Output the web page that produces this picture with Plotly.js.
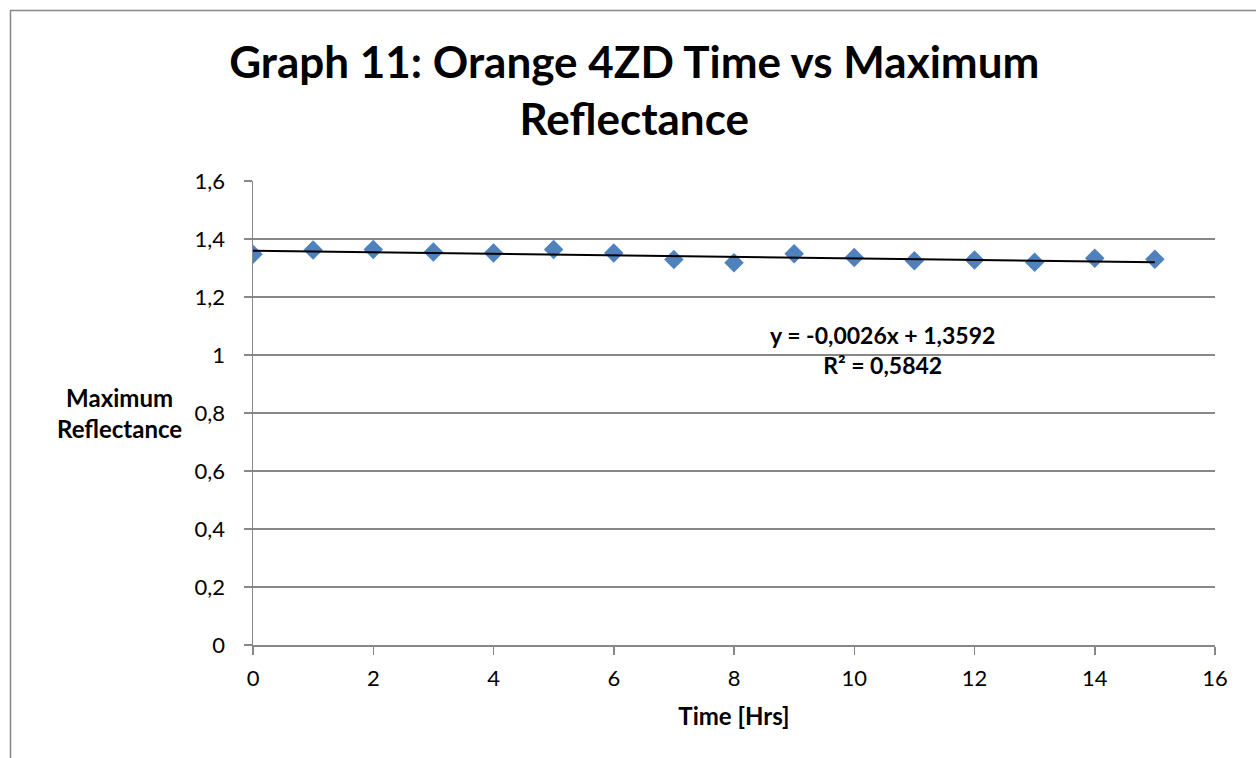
<!DOCTYPE html>
<html>
<head>
<meta charset="utf-8">
<script src="https://cdn.plot.ly/plotly-3.0.1.min.js"></script>
<style>
  html, body { margin: 0; padding: 0; background: #fff; }
  #chart { width: 1256px; height: 758px; }
</style>
</head>
<body>
<div id="chart"></div>
<script>
// Data
const timeHrs = [0, 1, 2, 3, 4, 5, 6, 7, 8, 9, 10, 11, 12, 13, 14, 15];
const maxReflectance = [1.347, 1.362, 1.364, 1.355, 1.352, 1.364, 1.352, 1.329, 1.318, 1.349, 1.336, 1.325, 1.328, 1.320, 1.334, 1.330];
const trendSlope = -0.0026;
const trendIntercept = 1.3592;
const trendR2 = 0.5842;
const xTickVals = [0, 2, 4, 6, 8, 10, 12, 14, 16];
const yTickVals = [0, 0.2, 0.4, 0.6, 0.8, 1, 1.2, 1.4, 1.6];

const FONT = 'Lato, "Open Sans", sans-serif';
const GRID = '#878787';

const trendX = [timeHrs[0], timeHrs[timeHrs.length - 1]];
const trendY = trendX.map(x => trendIntercept + trendSlope * x);

function fmt(v) { return String(v).replace('.', ','); }

const traces = [
  {
    x: timeHrs, y: maxReflectance, type: 'scatter', mode: 'markers',
    marker: { symbol: 'diamond', size: 15, color: '#4F81BD', line: { width: 0 } },
    showlegend: false, hoverinfo: 'x+y'
  },
  {
    x: trendX, y: trendY, type: 'scatter', mode: 'lines',
    line: { color: '#000000', width: 2 },
    showlegend: false, hoverinfo: 'skip'
  }
];

const W = 1256, H = 758, L = 253, R = 41, T = 181, B = 113;
const pw = W - L - R, ph = H - T - B;
const px = x => (x - L) / pw;       // pixel -> paper x
const py = y => (H - B - y) / ph;   // pixel -> paper y

const layout = {
  width: W, height: H,
  margin: { l: L, r: R, t: T, b: B, pad: 0 },
  paper_bgcolor: '#ffffff', plot_bgcolor: '#ffffff',
  separators: ',.',
  font: { family: FONT, color: '#000000', size: 22 },
  title: {
    text: '<b>Graph 11: Orange 4ZD Time vs Maximum<br>Reflectance</b>',
    font: { family: FONT, size: 44, color: '#000000' },
    x: 0.505, xanchor: 'center', xref: 'container',
    y: 1 - 78 / H, yanchor: 'top', yref: 'container'
  },
  xaxis: {
    range: [0, 16], tickvals: xTickVals,
    showgrid: false, zeroline: false,
    showline: true, linecolor: GRID, linewidth: 1.5,
    ticks: 'outside', ticklen: 8, tickcolor: GRID, tickwidth: 1.5,
    tickfont: { family: FONT, size: 22, color: '#000' },
    ticklabelstandoff: 5,
    title: { text: '<b>Time [Hrs]</b>', font: { family: FONT, size: 24, color: '#000' }, standoff: 18 },
    fixedrange: true
  },
  yaxis: {
    range: [0, 1.6], tickvals: yTickVals,
    tickformat: '.1~f',
    showgrid: true, gridcolor: GRID, gridwidth: 1.5,
    zeroline: false,
    showline: true, linecolor: GRID, linewidth: 1.5,
    ticks: 'outside', ticklen: 8, tickcolor: GRID, tickwidth: 1.5,
    tickfont: { family: FONT, size: 22, color: '#000' },
    ticklabelstandoff: 14,
    fixedrange: true
  },
  shapes: [
    {
      type: 'rect', xref: 'paper', yref: 'paper',
      x0: px(10.5), x1: px(W + 20), y0: py(H + 20), y1: py(10.5),
      line: { color: '#868686', width: 1.5 }, fillcolor: 'rgba(0,0,0,0)', layer: 'below'
    }
  ],
  annotations: [
    {
      xref: 'paper', yref: 'paper', x: px(119), y: py(413),
      xanchor: 'center', yanchor: 'middle', showarrow: false,
      text: '<b>Maximum<br>Reflectance</b>',
      font: { family: FONT, size: 24, color: '#000' }, align: 'center'
    },
    {
      xref: 'paper', yref: 'paper', x: px(882), y: py(350),
      xanchor: 'center', yanchor: 'middle', showarrow: false,
      text: '<b>y = ' + fmt(trendSlope) + 'x + ' + fmt(trendIntercept) + '<br>R² = ' + fmt(trendR2) + '</b>',
      font: { family: FONT, size: 23, color: '#000' }, align: 'center'
    }
  ]
};

Plotly.newPlot('chart', traces, layout, { displayModeBar: false, staticPlot: true });
</script>
</body>
</html>
